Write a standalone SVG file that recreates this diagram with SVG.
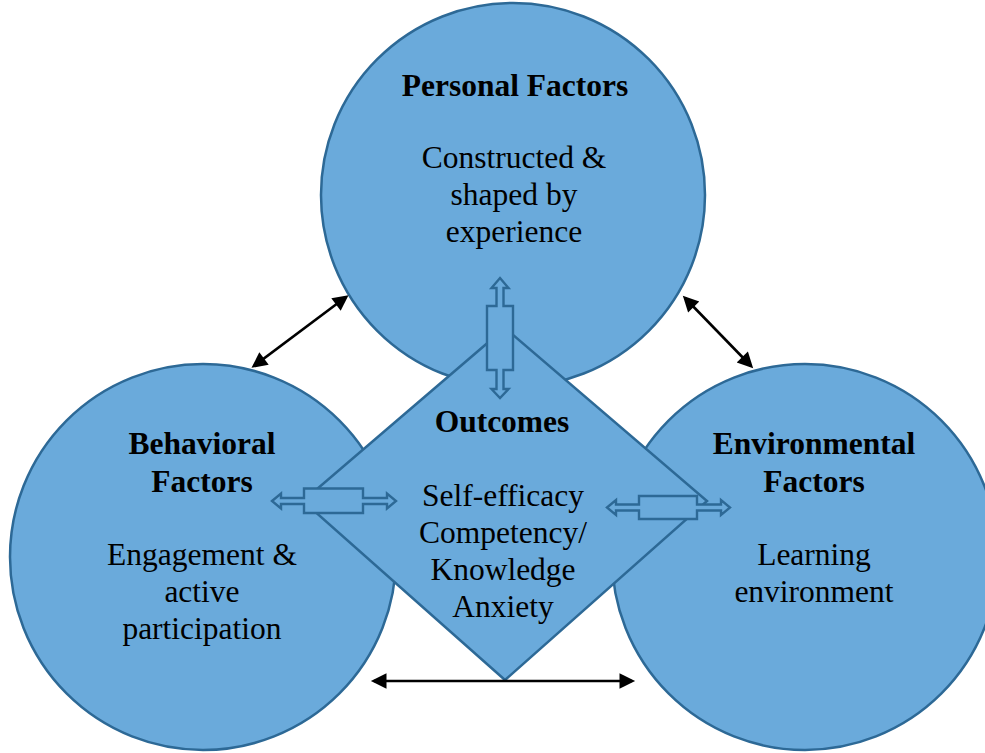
<svg xmlns="http://www.w3.org/2000/svg" width="985" height="753" viewBox="0 0 985 753">
<defs>
<style>
.shape{fill:#6aaadb;stroke:#2d6996;stroke-width:2.5}
.hollow{fill:#6aaadb;stroke:#2d6996;stroke-width:2.4;stroke-linejoin:miter}
.link{stroke:#000;stroke-width:2.6;fill:none;marker-start:url(#ah);marker-end:url(#ah)}
text{font-family:"Liberation Serif","Times New Roman",serif;font-size:31.5px;fill:#000;text-anchor:middle}
.b{font-weight:bold}
</style>
<marker id="ah" viewBox="0 0 10 10" refX="8" refY="5" markerWidth="7" markerHeight="6" markerUnits="strokeWidth" orient="auto-start-reverse">
<path d="M0,0 L10,5 L0,10 z" fill="#000"/>
</marker>
</defs>
<rect width="985" height="753" fill="#fff"/>
<g id="personal">
<circle class="shape" cx="513" cy="195" r="192"/>
<text class="b" x="515" y="96">Personal Factors</text>
<text x="514" y="168">Constructed &amp;</text>
<text x="514" y="205">shaped by</text>
<text x="514" y="242">experience</text>
</g>
<g id="behavioral">
<circle class="shape" cx="203" cy="557" r="193"/>
<text class="b" x="202" y="454">Behavioral</text>
<text class="b" x="202" y="492">Factors</text>
<text x="202" y="565">Engagement &amp;</text>
<text x="202" y="602">active</text>
<text x="202" y="639">participation</text>
</g>
<g id="environmental">
<circle class="shape" cx="805" cy="557" r="193"/>
<text class="b" x="814" y="454">Environmental</text>
<text class="b" x="814" y="492">Factors</text>
<text x="814" y="565">Learning</text>
<text x="814" y="602">environment</text>
</g>
<g id="outcomes">
<polygon class="shape" points="505,328 707,501 505,680 303,501"/>
<text class="b" x="502" y="432">Outcomes</text>
<text x="503" y="506">Self-efficacy</text>
<text x="503" y="543">Competency/</text>
<text x="503" y="580">Knowledge</text>
<text x="503" y="617">Anxiety</text>
</g>
<g id="connectors">
<polygon class="hollow" points="500,278 508.5,288 503.5,288 503.5,306 513,306 513,370 503.5,370 503.5,389 508.5,389 500,398 491.5,389 496.5,389 496.5,370 487,370 487,306 496.5,306 496.5,288 491.5,288"/>
<polygon class="hollow" points="272,501 281,493.5 281,498 304,498 304,488.5 363,488.5 363,498 387,498 387,493.5 396,501 387,508.5 387,504 363,504 363,513 304,513 304,504 281,504 281,508.5"/>
<polygon class="hollow" points="607,507.5 616,500 616,504.5 639,504.5 639,496 697,496 697,504.5 721,504.5 721,500 730,507.5 721,515 721,510.5 697,510.5 697,519 639,519 639,510.5 616,510.5 616,515"/>
<line class="link" x1="254" y1="366" x2="346" y2="297"/>
<line class="link" x1="685" y1="298" x2="751" y2="366"/>
<line class="link" x1="374" y1="681" x2="632" y2="681"/>
</g>
</svg>
